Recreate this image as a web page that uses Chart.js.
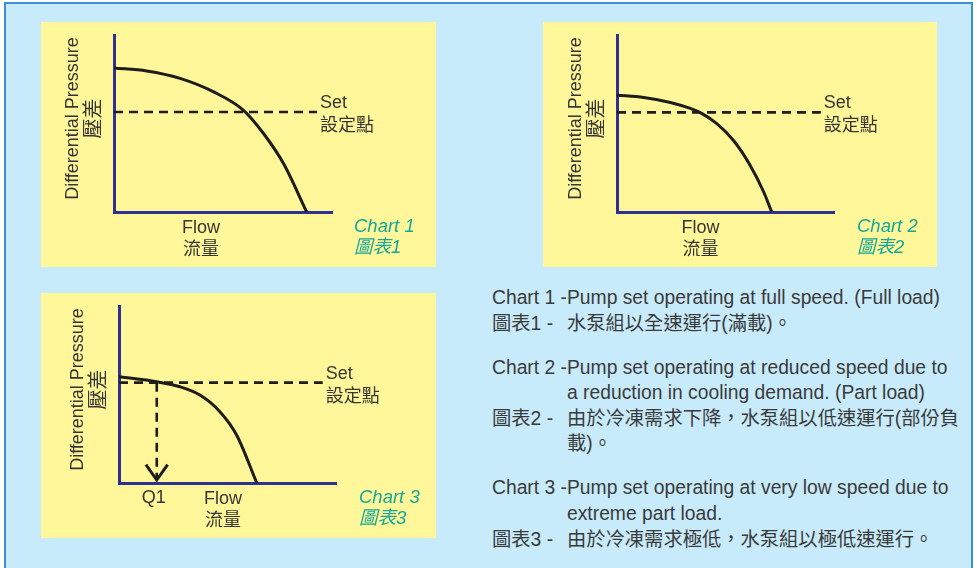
<!DOCTYPE html>
<html lang="zh-Hant">
<head>
<meta charset="UTF-8">
<title>Pump set operating curves</title>
<script src="https://cdn.jsdelivr.net/npm/chart.js@4.4.0/dist/chart.umd.min.js"></script>
<style>
  html, body { margin: 0; padding: 0; background: #fff; }
  body { width: 977px; height: 568px; position: relative; overflow: hidden;
         font-family: "Liberation Sans", Arial, "Noto Sans CJK TC", sans-serif; }
  #frame { position: absolute; left: 4px; top: 2px; width: 965px; height: 600px;
           border: 2px solid #3d8fd6; background: #c8ebfb; }
  .panel { position: absolute; background: #fff799; }
  .panel canvas { display: block; }
  #notes { position: absolute; left: 492px; top: 285px; color: #3a3a3a;
           font-size: 19.3px; line-height: 25.6px; white-space: nowrap; }
  .row { display: flex; }
  .lab { width: 75px; flex: none; }
  .gap { height: 18.4px; }
</style>
</head>
<body>
<div id="frame"></div>

<div class="panel" style="left:41px; top:22px; width:395px; height:245px;">
  <canvas id="c1" width="395" height="245"></canvas>
</div>
<div class="panel" style="left:543px; top:22px; width:394px; height:245px;">
  <canvas id="c2" width="394" height="245"></canvas>
</div>
<div class="panel" style="left:41px; top:293px; width:395px; height:245px;">
  <canvas id="c3" width="395" height="245"></canvas>
</div>

<div id="notes">
  <div class="row"><span class="lab">Chart 1 -</span><span>Pump set operating at full speed. (Full load)</span></div>
  <div class="row"><span class="lab">圖表1 -</span><span>水泵組以全速運行(滿載)。</span></div>
  <div class="gap"></div>
  <div class="row"><span class="lab">Chart 2 -</span><span>Pump set operating at reduced speed due to<br>a reduction in cooling demand. (Part load)</span></div>
  <div class="row"><span class="lab">圖表2 -</span><span>由於冷凍需求下降，水泵組以低速運行(部份負<br>載)。</span></div>
  <div class="gap"></div>
  <div class="row"><span class="lab">Chart 3 -</span><span>Pump set operating at very low speed due to<br>extreme part load.</span></div>
  <div class="row"><span class="lab">圖表3 -</span><span>由於冷凍需求極低，水泵組以極低速運行。</span></div>
</div>

<script>
// pump curves (flow vs differential pressure, 0-100 scale)
var flow1 = [0, 15, 30.3, 45.5, 59.3, 68.5, 77.7, 88.4];
var head1 = [81.4, 79.7, 75.5, 68, 57.6, 44.5, 27.5, 0];
var flow2 = [0, 12.3, 24.6, 33.8, 39.2, 46, 53.7, 61.4, 67.6, 71.3];
var head2 = [66, 64.7, 61.9, 58.5, 55.6, 49.9, 40.4, 26.3, 11.3, 0];
var flow3 = [0, 17.4, 28.1, 37.3, 46.5, 54.2, 63.5];
var head3 = [60, 57.2, 54.4, 49.7, 40.3, 27.1, 0];

// set point line: level and where it stops
var setHead = [56.5, 56.3, 56.7];
var setEnd = [93.1, 93.9, 93.9];

// chart 3: drop from set point down to Q1
var q1Flow = 17.4;
var q1Bottom = 1.7;
var arrowX = [12.4, 17.4, 22.4];
var arrowY = [10.4, 1.7, 10.4];

var xTitle = ['Flow', '流量'];
var yTitle = ['Differential Pressure', '壓差'];
var setText = ['Set', '設定點'];
var q1Text = 'Q1';
var chartNames = [['Chart 1', '圖表1'], ['Chart 2', '圖表2'], ['Chart 3', '圖表3']];

var INK = '#1d1d1b';
var AXIS = '#2e3192';

function pts(xs, ys) {
    return xs.map(function (v, k) { return { x: v, y: ys[k] }; });
}

function font(size, style) {
    return (style ? style + ' ' : '') + size + 'px "Liberation Sans", Arial, "Noto Sans CJK TC", sans-serif';
}

var panelText = {
    id: 'panelText',
    afterDraw: function (chart, args, o) {
        var ctx = chart.ctx, a = chart.chartArea;
        var xs = chart.scales.x, ys = chart.scales.y;
        ctx.save();
        ctx.fillStyle = '#363636';
        ctx.textBaseline = 'middle';

        // rotated y title
        ctx.save();
        ctx.translate(a.left, (a.top + a.bottom) / 2 - 5);
        ctx.rotate(-Math.PI / 2);
        ctx.textAlign = 'center';
        ctx.font = font(18);
        ctx.fillText(yTitle[0], 0, -41);
        ctx.font = font(20);
        ctx.fillText(yTitle[1], 0, -20);
        ctx.restore();

        // set point label
        var sy = ys.getPixelForValue(setHead[o.idx]);
        var sx = xs.getPixelForValue(setEnd[o.idx]) + 3;
        ctx.textAlign = 'left';
        ctx.font = font(18);
        ctx.fillText(setText[0], sx, sy - 9);
        ctx.fillText(setText[1], sx, sy + 14);

        // x title
        var fx = xs.getPixelForValue(o.flowAt);
        ctx.textAlign = 'center';
        ctx.fillText(xTitle[0], fx, a.bottom + 16);
        ctx.fillText(xTitle[1], fx, a.bottom + 38);

        if (o.q1) {
            ctx.fillText(q1Text, xs.getPixelForValue(q1Flow) - 3, a.bottom + 15);
        }

        // chart name
        ctx.textAlign = 'left';
        ctx.fillStyle = '#13a89b';
        ctx.font = font(18.5, 'italic');
        ctx.fillText(chartNames[o.idx][0], a.left + 240, a.bottom + 15);
        ctx.fillText(chartNames[o.idx][1], a.left + 240, a.bottom + 36);
        ctx.restore();
    }
};

function axis() {
    return {
        type: 'linear', min: 0, max: 100,
        ticks: { display: false },
        grid: { display: false, drawTicks: false },
        border: { display: true, color: AXIS, width: 3 }
    };
}

function pumpChart(id, idx, xs, ys, pad, flowAt, extra) {
    var datasets = [
        { data: pts(xs, ys), borderColor: INK, borderWidth: 3, cubicInterpolationMode: 'monotone' },
        { data: [{ x: 0, y: setHead[idx] }, { x: setEnd[idx], y: setHead[idx] }],
          borderColor: INK, borderWidth: 2.6, borderDash: [9, 6] }
    ].concat(extra || []);

    return new Chart(document.getElementById(id), {
        type: 'line',
        data: { datasets: datasets },
        options: {
            responsive: false,
            animation: false,
            events: [],
            layout: { padding: pad },
            elements: { point: { radius: 0 }, line: { fill: false } },
            plugins: {
                legend: { display: false },
                tooltip: { enabled: false },
                panelText: { idx: idx, flowAt: flowAt, q1: !!extra }
            },
            scales: { x: axis(), y: axis() }
        },
        plugins: [panelText]
    });
}

pumpChart('c1', 0, flow1, head1, { left: 73, top: 13, right: 104, bottom: 55 }, 39.9);
pumpChart('c2', 1, flow2, head2, { left: 74, top: 13, right: 103, bottom: 55 }, 38.5);
pumpChart('c3', 2, flow3, head3, { left: 78, top: 13, right: 100, bottom: 55 }, 47.9, [
    { data: [{ x: q1Flow, y: setHead[2] }, { x: q1Flow, y: q1Bottom }],
      borderColor: INK, borderWidth: 2.6, borderDash: [9, 6] },
    { data: pts(arrowX, arrowY), borderColor: INK, borderWidth: 3 }
]);
</script>
</body>
</html>
